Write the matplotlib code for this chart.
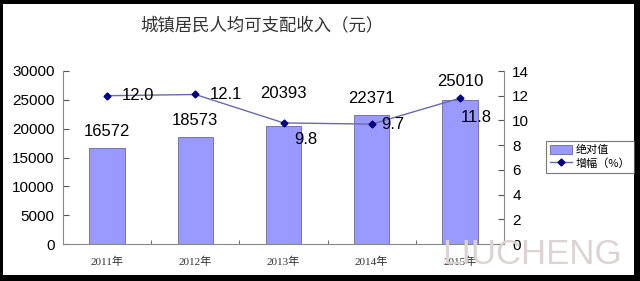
import matplotlib
matplotlib.use("Agg")
import matplotlib.pyplot as plt
from matplotlib.patches import Rectangle
import numpy as np

plt.rcParams['font.family'] = ['Liberation Sans', 'Noto Sans CJK SC', 'DejaVu Sans']

title = "城镇居民人均可支配收入（元）"
years = ["2011年", "2012年", "2013年", "2014年", "2015年"]
income = [16572, 18573, 20393, 22371, 25010]
growth = [12.0, 12.1, 9.8, 9.7, 11.8]
bar_name = "绝对值"
line_name = "增幅（%）"

W, H = 640, 281
fig = plt.figure(figsize=(W/100, H/100), dpi=100)
fig.patch.set_facecolor('black')
fig.add_artist(Rectangle((3/W, 1-275/H), (634-3)/W, (275-4)/H, transform=fig.transFigure,
                         facecolor='white', edgecolor='none', zorder=0))

ax = fig.add_axes([63/W, 1-244/H, (504-63)/W, (244-71)/H])
ax.set_facecolor('none')
x = np.arange(len(years))
bars = ax.bar(x, income, width=0.4, color='#9999ff', edgecolor='#6666aa', linewidth=0.6, zorder=2)
ax.set_xlim(-0.5, len(years)-0.5)
ax.set_ylim(0, 30000)
ax.set_yticks(np.arange(0, 30001, 5000))
ax.set_xticks(x)
ax.set_xticklabels(years, family=['Liberation Serif', 'Noto Sans CJK SC'], fontsize=8, color='#333333')
ax.set_xticks(np.arange(-0.5, len(years)), minor=True)
ax.tick_params(axis='x', which='major', length=0, pad=9)
ax.tick_params(axis='x', which='minor', length=3, direction='in', color='#555555')
ax.tick_params(axis='y', direction='in', length=4, color='#555555', labelsize=11, pad=6)
for s in ['top', 'right']:
    ax.spines[s].set_visible(False)
for s in ['left', 'bottom']:
    ax.spines[s].set_color('#888888')

ax2 = ax.twinx()
ax2.set_ylim(0, 14)
ax2.set_yticks(np.arange(0, 15, 2))
ln, = ax2.plot(x, growth, color='#6a6aaa', linewidth=1.0, marker='D', markersize=3.5,
               markerfacecolor='#000080', markeredgecolor='#000080', zorder=3)
ax2.tick_params(axis='y', direction='in', length=4, color='#555555', labelsize=11, pad=6)
for s in ['top', 'left', 'bottom']:
    ax2.spines[s].set_visible(False)
ax2.spines['right'].set_color('#888888')

# bar value labels (offsets in points)
bar_off = [12, 12, 24, 12, 13]
for xi, v, o in zip(x, income, bar_off):
    ax.annotate(str(v), (xi, v), xytext=(0, o), textcoords='offset points',
                ha='center', va='center', fontsize=12, color='black', zorder=5)
# growth labels
line_off = [(22, 0), (22, 0), (16, -12), (15, 0), (12, -14)]
for xi, g, (dx, dy) in zip(x, growth, line_off):
    ax2.annotate(f"{g:.1f}", (xi, g), xytext=(dx, dy), textcoords='offset points',
                 ha='center', va='center', fontsize=12, color='black', zorder=5)

fig.text(262/W, 1-25/H, title, ha='center', va='center', fontsize=12.5, color='#333333',
         family=['Noto Sans CJK SC'])

leg = fig.legend([bars, ln], [bar_name, line_name], loc='upper left',
                 bbox_to_anchor=(546/W, 1-141/H), borderaxespad=0, frameon=True, fancybox=False,
                 borderpad=0.35, handlelength=2.0, handleheight=0.9, handletextpad=0.3, labelspacing=0.25,
                 prop={'family': ['Noto Sans CJK SC'], 'size': 8})
leg.get_frame().set_edgecolor('#555555')
leg.get_frame().set_linewidth(0.8)

fig.text(442/W, 1-255/H, "LIUCHENG", ha='left', va='center', fontsize=25,
         color='#dcd4d4', zorder=10)

fig.savefig("out.png", dpi=100, facecolor=fig.get_facecolor())
